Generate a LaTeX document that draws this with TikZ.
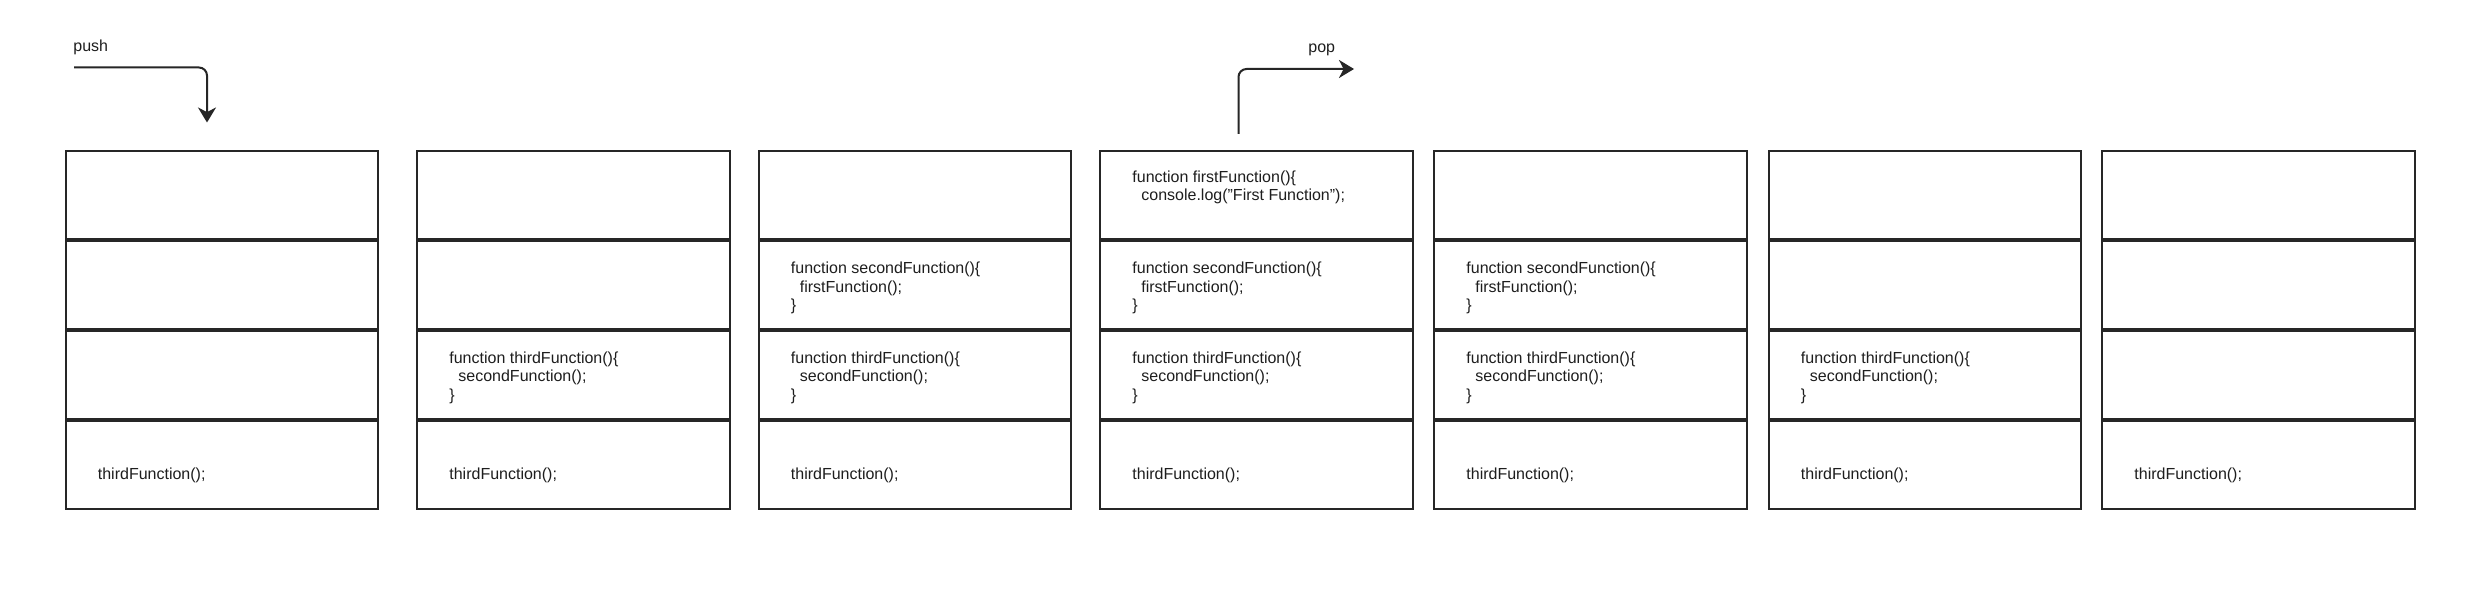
\documentclass[tikz,border=0pt]{standalone}
\usepackage{fontspec}
\setmainfont{Liberation Sans}
\usetikzlibrary{arrows.meta}
\definecolor{ink}{HTML}{262626}
\definecolor{txt}{HTML}{1E1E1E}
\newcommand\blkthird{function thirdFunction()\{\\\hspace*{4.5pt}secondFunction();\\\}}
\newcommand\blksecond{function secondFunction()\{\\\hspace*{4.5pt}firstFunction();\\\}}
\newcommand\blkfirst{function firstFunction()\{\\\hspace*{4.5pt}console.log("First Function");}
\begin{document}
\begin{tikzpicture}[x=0.5pt,y=-0.5pt,
  cell/.style={draw=ink, line width=1pt, minimum width=156.25pt, minimum height=43.95pt, inner sep=0pt, outer sep=0pt},
  code/.style={anchor=west, align=left, inner sep=0pt, text=txt, font=\fontsize{8}{9.2}\selectfont},
  lbl/.style={anchor=base west, inner sep=0pt, text=txt, font=\fontsize{8}{9.2}\selectfont},
  flow/.style={draw=ink, line width=1pt, rounded corners=4pt, -{Stealth[length=7.5pt,width=9pt,inset=2.3pt]}}]
\useasboundingbox (0,0) rectangle (2468,592);
\fill[white] (0,0) rectangle (2468,592);
% stacks of four cells
\foreach \s/\l in {1/64.5,2/416,3/757.5,4/1099,5/1433,6/1767.5,7/2101} {
  \foreach \r in {1,...,4} {
    \node[cell] (s\s r\r) at ({\l+157.25}, {151+43.95+89.9*(\r-1)}) {};
  }
  \node[lbl] (t\s r4) at ({\l+33}, 479.3) {thirdFunction();};
}
% third function frames
\foreach \s/\l in {2/416,3/757.5,4/1099,5/1433,6/1767.5} {
  \node[code] (t\s r3) at ({\l+33}, 377.5) {\blkthird};
}
% second function frames
\foreach \s/\l in {3/757.5,4/1099,5/1433} {
  \node[code] (t\s r2) at ({\l+33}, 288.2) {\blksecond};
}
% first function frame
\node[code] (t4r1) at (1132, 187.2) {\blkfirst};
% push / pop arrows
\node[lbl] (pushL) at (73,52) {push};
\node[lbl] (popL) at (1308,52.3) {pop};
\coordinate (pushS) at (74,67.5);
\coordinate (pushE) at (207,122.5);
\draw[flow] (pushS) -| (pushE);
\coordinate (popS) at (1238.5,134);
\coordinate (popE) at (1354,69);
\draw[flow] (popS) |- (popE);
\end{tikzpicture}
\end{document}
